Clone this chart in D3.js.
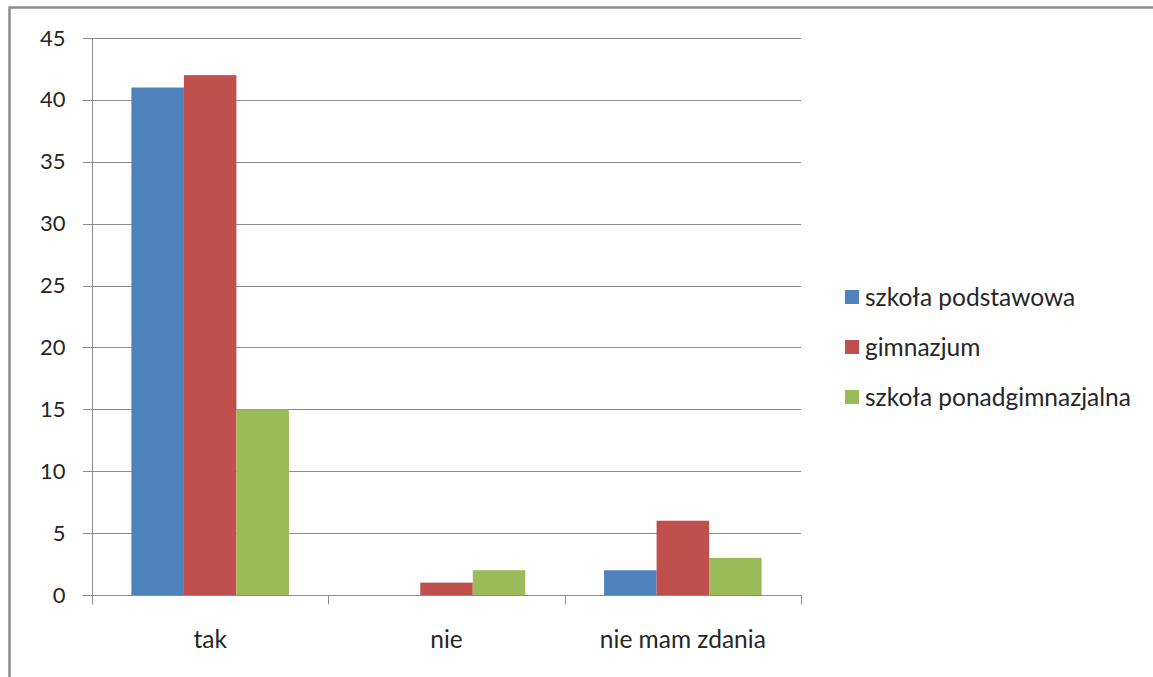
<!DOCTYPE html>
<html>
<head>
<meta charset="utf-8">
<script src="https://cdn.jsdelivr.net/npm/d3@7"></script>
<style>
  body { margin: 0; background: #fff; }
  text { font-family: Lato, "Open Sans", sans-serif; fill: #262626; }
</style>
</head>
<body>
<div class="canvas"></div>
<script>
// Data
const categories = ['tak', 'nie', 'nie mam zdania']
const seriesNames = ['szkoła podstawowa', 'gimnazjum', 'szkoła ponadgimnazjalna']
const podstawowa = [41, 0, 2]
const gimnazjum = [42, 1, 6]
const ponadgimnazjalna = [15, 2, 3]
const yTicks = [0, 5, 10, 15, 20, 25, 30, 35, 40, 45]
const colors = ['#4F81BD', '#C0504D', '#9BBB59']

const seriesValues = [podstawowa, gimnazjum, ponadgimnazjalna]

const width = 1153
const height = 677
const margin = {top: 38, left: 92, right: 352, bottom: 82}

const svg = d3.select('.canvas')
  .append('svg')
    .attr('width', width)
    .attr('height', height)

// Outer frame (only top and left visible)
svg.append('path')
  .attr('d', `M9.5,${height} V7.5 H${width}`)
  .attr('fill', 'none')
  .attr('stroke', '#8c8c8c')
  .attr('stroke-width', 2.5)

const x0 = d3.scaleBand()
  .domain(categories)
  .range([margin.left, width - margin.right])

const x1 = d3.scaleBand()
  .domain(seriesNames)
  .range([0, x0.bandwidth()])
  .paddingOuter(0.75)

const y = d3.scaleLinear()
  .domain([0, 45])
  .range([height - margin.bottom, margin.top])

// Gridlines
svg.append('g')
  .selectAll('line')
  .data(yTicks)
  .enter()
  .append('line')
    .attr('x1', margin.left - 9)
    .attr('x2', width - margin.right)
    .attr('y1', (d) => Math.round(y(d)) + 0.5)
    .attr('y2', (d) => Math.round(y(d)) + 0.5)
    .attr('stroke', '#8c8c8c')
    .attr('stroke-width', 1)

// Y axis
const yAxis = d3.axisLeft(y)
  .tickValues(yTicks)
  .tickSize(9)
  .tickPadding(18)

svg.append('g')
  .attr('transform', `translate(${margin.left + 0.5},0)`)
  .call(yAxis)
  .call((g) => g.select('.domain').attr('stroke', '#8c8c8c').attr('d', `M0,${y(45)}V${y(0)}`))
  .call((g) => g.selectAll('.tick line').remove())
  .call((g) => g.selectAll('text')
    .attr('font-size', 22)
    .attr('font-family', 'Lato, sans-serif')
    .attr('fill', '#262626'))

// Bars
const groups = svg.append('g')
  .selectAll('g')
  .data(categories)
  .enter()
  .append('g')
    .attr('transform', (d) => `translate(${x0(d)},0)`)

groups.selectAll('rect')
  .data((d, i) => seriesNames.map((s, j) => ({series: s, value: seriesValues[j][i], color: colors[j]})))
  .enter()
  .append('rect')
    .attr('x', (d) => x1(d.series))
    .attr('width', x1.bandwidth())
    .attr('y', (d) => y(d.value))
    .attr('height', (d) => y(0) - y(d.value))
    .attr('fill', (d) => d.color)

// X axis
const xAxis = d3.axisBottom(x0)
  .tickSize(0)
  .tickPadding(35)

const xg = svg.append('g')
  .attr('transform', `translate(0,${Math.round(y(0)) + 0.5})`)
  .call(xAxis)

xg.select('.domain')
  .attr('stroke', '#8c8c8c')
  .attr('d', `M${margin.left},0H${width - margin.right}`)

xg.selectAll('text')
  .attr('font-size', 24.5)
  .attr('font-family', 'Lato, sans-serif')
  .attr('fill', '#262626')

// category boundary ticks
xg.selectAll('.sep')
  .data([...categories.map((c) => x0(c)), width - margin.right])
  .enter()
  .append('line')
    .attr('x1', (d) => Math.round(d) + 0.5)
    .attr('x2', (d) => Math.round(d) + 0.5)
    .attr('y1', 0)
    .attr('y2', 9)
    .attr('stroke', '#8c8c8c')

// Legend
const legend = svg.append('g')
  .attr('transform', 'translate(845,297)')

const items = legend.selectAll('g')
  .data(seriesNames)
  .enter()
  .append('g')
    .attr('transform', (d, i) => `translate(0,${i * 50})`)

items.append('rect')
  .attr('x', 0)
  .attr('y', -7)
  .attr('width', 14)
  .attr('height', 14)
  .attr('fill', (d, i) => colors[i])

items.append('text')
  .attr('x', 20)
  .attr('y', 0)
  .attr('dy', '0.35em')
  .attr('font-size', 24.5)
  .text((d) => d)
</script>
</body>
</html>
